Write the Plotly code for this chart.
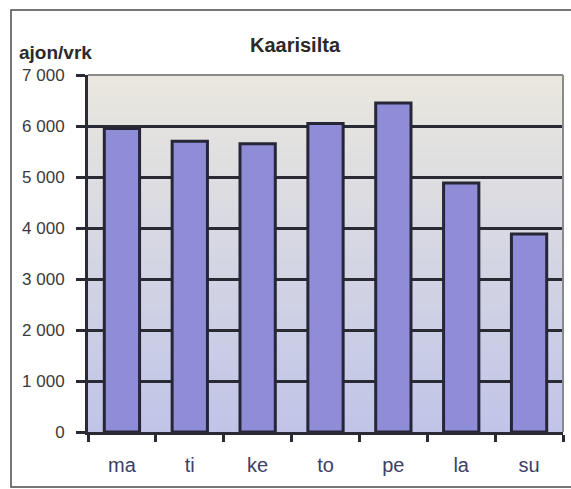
import plotly.graph_objects as go

# Average daily traffic by weekday
days = ["ma", "ti", "ke", "to", "pe", "la", "su"]
traffic = [5950, 5700, 5650, 6050, 6450, 4880, 3880]
y_ticks = [0, 1000, 2000, 3000, 4000, 5000, 6000, 7000]
y_tick_labels = ["0", "1 000", "2 000", "3 000", "4 000", "5 000", "6 000", "7 000"]

W, H = 571, 489
M_L, M_R, M_T, M_B = 88, 8, 75, 57

fig = go.Figure()
fig.add_trace(go.Bar(
    x=days, y=traffic,
    marker=dict(color="#8f8cd8", line=dict(color="#262636", width=3)),
    width=0.52,
))

# vertical gradient in the plot area, built from thin bands
shapes = []
n_bands = 70
top_rgb = (234, 231, 222)
bot_rgb = (192, 197, 232)
for i in range(n_bands):
    t = i / (n_bands - 1)
    r = round(top_rgb[0] + (bot_rgb[0] - top_rgb[0]) * t)
    g = round(top_rgb[1] + (bot_rgb[1] - top_rgb[1]) * t)
    b = round(top_rgb[2] + (bot_rgb[2] - top_rgb[2]) * t)
    y1 = 1 - i / n_bands
    y0 = 1 - (i + 1) / n_bands
    shapes.append(dict(type="rect", xref="x domain", yref="y domain",
                       x0=0, x1=1, y0=y0 - 0.002, y1=y1,
                       fillcolor=f"rgb({r},{g},{b})", line=dict(width=0),
                       layer="below"))

# light border on the top and right of the plot area
shapes.append(dict(type="line", xref="x domain", yref="y domain",
                   x0=0, x1=1, y0=1, y1=1, line=dict(color="#8a8a8a", width=2)))
shapes.append(dict(type="line", xref="x domain", yref="y domain",
                   x0=1, x1=1, y0=0, y1=1, line=dict(color="#8a8a8a", width=2)))

# outer frame of the chart
pw = W - M_L - M_R
ph = H - M_T - M_B
def px_x(px):
    return (px - M_L) / pw
def px_y(py):
    return (H - M_B - py) / ph
shapes.append(dict(type="rect", xref="paper", yref="paper",
                   x0=px_x(11), x1=px_x(578), y0=px_y(487), y1=px_y(10),
                   line=dict(color="#4a4a4a", width=1.5), fillcolor="rgba(0,0,0,0)",
                   layer="below"))

font = "Liberation Sans, Arial, sans-serif"
fig.update_layout(
    width=W, height=H,
    margin=dict(l=M_L, r=M_R, t=M_T, b=M_B),
    paper_bgcolor="white",
    plot_bgcolor="rgba(0,0,0,0)",
    showlegend=False,
    shapes=shapes,
    font=dict(family=font, color="#333333"),
    title=dict(text="<b>Kaarisilta</b>", x=295 / W, xref="container", xanchor="center",
               y=1 - 45 / H, yanchor="middle", font=dict(size=20, color="#2a2a2a")),
    annotations=[dict(text="<b>ajon/vrk</b>", xref="paper", yref="paper",
                      x=px_x(17), y=px_y(52), xanchor="left", yanchor="middle",
                      showarrow=False, font=dict(size=19, color="#2a2a2a"))],
)
fig.update_yaxes(
    range=[0, 7000], tickvals=y_ticks, ticktext=y_tick_labels,
    showgrid=True, gridcolor="#2a2a34", gridwidth=3,
    showline=True, linecolor="#2a2a34", linewidth=3,
    ticks="outside", ticklen=9, tickwidth=3, tickcolor="#2a2a34",
    ticklabelstandoff=8, tickfont=dict(size=17, color="#3a3a3a"),
    zeroline=False,
)
fig.update_xaxes(
    showgrid=False, showline=True, linecolor="#2a2a34", linewidth=3,
    ticks="outside", tickson="boundaries", ticklen=7, tickwidth=3, tickcolor="#2a2a34",
    ticklabelstandoff=13, tickfont=dict(size=20, color="#3c4068"),
)

fig.write_html("out.html")
